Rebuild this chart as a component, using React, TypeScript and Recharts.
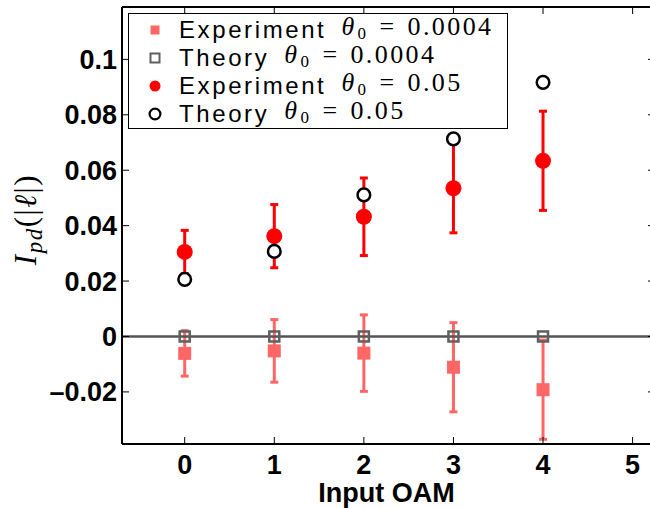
import React from 'react';
import { ScatterChart, Scatter, XAxis, YAxis, ErrorBar, ReferenceLine, Legend } from 'recharts';

// values
const oam = [0, 1, 2, 3, 4];
const expSmall = [-0.0061, -0.0052, -0.006, -0.0111, -0.0192];
const expSmallErr = [0.0082, 0.0113, 0.0138, 0.0161, 0.0179];
const theorySmall = [0, 0, 0, 0, 0];
const expLarge = [0.0305, 0.0362, 0.0432, 0.0535, 0.0634];
const expLargeErr = [0.0078, 0.0114, 0.014, 0.0161, 0.0179];
const theoryLarge = [0.0206, 0.0307, 0.0511, 0.0713, 0.0917];

const xTicks = [0, 1, 2, 3, 4, 5];
const yTicks = [-0.02, 0, 0.02, 0.04, 0.06, 0.08, 0.1];
const xDomain = [-0.7, 5.25];
const yDomain = [-0.0388, 0.1189];

const legendItems = [
  { label: 'Experiment', theta: '0.0004', marker: 'expSmall' },
  { label: 'Theory', theta: '0.0004', marker: 'theorySmall' },
  { label: 'Experiment', theta: '0.05', marker: 'expLarge' },
  { label: 'Theory', theta: '0.05', marker: 'theoryLarge' },
];

const LIGHT_RED = '#ff6666';
const RED = '#ff0000';
const GRAY = '#606060';

const toPoints = (ys: number[], errs?: number[]) =>
  oam.map((x, i) => ({ x, y: ys[i], err: errs ? errs[i] : 0 }));

const tickFont = {
  fontFamily: '"Liberation Sans", Arial, sans-serif',
  fontWeight: 700,
  fontSize: 27,
  fill: '#000',
};

const formatY = (v: number) => {
  const s = String(Math.round(v * 100) / 100);
  return s.replace('-', '\u2013');
};

const FilledSquare = (p: any) => (
  <rect x={p.cx - 6.5} y={p.cy - 6.5} width={13} height={13} fill={LIGHT_RED} />
);
const OpenSquare = (p: any) => (
  <rect x={p.cx - 5} y={p.cy - 5} width={10} height={10} fill="none" stroke={GRAY} strokeWidth={2.5} />
);
const FilledCircle = (p: any) => <circle cx={p.cx} cy={p.cy} r={8} fill={RED} />;
const OpenCircle = (p: any) => (
  <circle cx={p.cx} cy={p.cy} r={6.3} fill="#fff" stroke="#000" strokeWidth={2.5} />
);

const LegendMarker = ({ kind }: { kind: string }) => (
  <svg width={20} height={20} style={{ display: 'block' }}>
    {kind === 'expSmall' && <rect x={5.5} y={5.5} width={9} height={9} fill={LIGHT_RED} />}
    {kind === 'theorySmall' && (
      <rect x={5.5} y={5.5} width={9} height={9} fill="none" stroke={GRAY} strokeWidth={2} />
    )}
    {kind === 'expLarge' && <circle cx={10} cy={10} r={5.5} fill={RED} />}
    {kind === 'theoryLarge' && (
      <circle cx={10} cy={10} r={5.4} fill="#fff" stroke="#000" strokeWidth={2.2} />
    )}
  </svg>
);

const LegendBox = () => (
  <div
    style={{
      width: 378,
      height: 112,
      border: '1px solid #000',
      background: '#fff',
      paddingTop: 2,
      boxSizing: 'content-box',
    }}
  >
    {legendItems.map((it, i) => (
      <div key={i} style={{ display: 'flex', alignItems: 'center', height: 28, whiteSpace: 'nowrap' }}>
        <div style={{ width: 20, marginLeft: 16, marginRight: 14 }}>
          <LegendMarker kind={it.marker} />
        </div>
        <span
          style={{
            fontFamily: '"Liberation Sans", Arial, sans-serif',
            fontSize: 24,
            letterSpacing: 2.6,
            lineHeight: '26px',
          }}
        >
          {it.label}
        </span>
        <span
          style={{
            fontFamily: '"Liberation Serif", "DejaVu Serif", serif',
            fontSize: 26,
            lineHeight: '26px',
            marginLeft: 15,
            letterSpacing: 2.4,
          }}
        >
          <i>θ</i>
          <sub style={{ fontSize: 17, verticalAlign: '-4px', marginLeft: 1 }}>0</sub>
          <span style={{ margin: '0 11px' }}>=</span>
          {it.theta}
        </span>
      </div>
    ))}
  </div>
);

const YLabel = ({ viewBox }: any) => {
  const x = viewBox.x + 36;
  const y = viewBox.y + viewBox.height / 2 - 6;
  return (
    <text
      x={x}
      y={y}
      transform={`rotate(-90 ${x} ${y})`}
      textAnchor="middle"
      fontFamily='"Liberation Serif", "DejaVu Serif", serif'
      fontSize={31}
      letterSpacing={1.5}
      fill="#000"
    >
      <tspan fontStyle="italic">I</tspan>
      <tspan fontStyle="italic" fontSize={23} dy={6}>
        pd
      </tspan>
      <tspan dy={-6}>(|</tspan>
      <tspan fontStyle="italic">ℓ</tspan>
      <tspan>|)</tspan>
    </text>
  );
};

const XLabel = ({ viewBox }: any) => (
  <text
    x={viewBox.x + viewBox.width / 2 - 2}
    y={viewBox.y + 58}
    textAnchor="middle"
    fontFamily='"Liberation Sans", Arial, sans-serif'
    fontWeight={700}
    fontSize={27}
    fill="#000"
  >
    Input OAM
  </text>
);

export default function App() {
  return (
    <div style={{ position: 'absolute', left: 0, top: 0, width: 650, height: 508, overflow: 'hidden', background: '#fff' }}>
      <ScatterChart width={656} height={508} margin={{ top: 6, right: 0, bottom: 0, left: 0 }}>
        <XAxis
          type="number"
          dataKey="x"
          domain={xDomain}
          ticks={xTicks}
          allowDataOverflow
          height={64}
          tick={tickFont}
          tickSize={-7}
          tickMargin={18}
          axisLine={{ stroke: '#000', strokeWidth: 2 }}
          tickLine={{ stroke: '#000', strokeWidth: 1 }}
          label={<XLabel />}
        />
        <XAxis
          xAxisId="top"
          orientation="top"
          type="number"
          dataKey="x"
          domain={xDomain}
          ticks={xTicks}
          allowDataOverflow
          height={1}
          tickFormatter={() => ''}
          tickSize={-7}
          axisLine={{ stroke: '#000', strokeWidth: 2 }}
          tickLine={{ stroke: '#000', strokeWidth: 1 }}
        />
        <YAxis
          type="number"
          dataKey="y"
          domain={yDomain}
          ticks={yTicks}
          allowDataOverflow
          width={122}
          tick={tickFont}
          tickFormatter={formatY}
          tickSize={-7}
          tickMargin={12}
          axisLine={{ stroke: '#000', strokeWidth: 2 }}
          tickLine={{ stroke: '#000', strokeWidth: 1 }}
          label={<YLabel />}
        />
        <YAxis
          yAxisId="right"
          orientation="right"
          type="number"
          domain={yDomain}
          ticks={yTicks}
          allowDataOverflow
          width={1}
          tickFormatter={() => ''}
          tickSize={-7}
          axisLine={{ stroke: '#000', strokeWidth: 2 }}
          tickLine={{ stroke: '#000', strokeWidth: 1 }}
        />
        <Legend
          layout="vertical"
          align="center"
          verticalAlign="middle"
          wrapperStyle={{ left: 128, top: 13, width: 380, height: 114 }}
          content={() => <LegendBox />}
        />
        <Scatter
          name="Experiment θ0 = 0.0004"
          data={toPoints(expSmall, expSmallErr)}
          shape={FilledSquare}
          isAnimationActive={false}
        >
          <ErrorBar dataKey="err" direction="y" width={4} strokeWidth={3} stroke={LIGHT_RED} />
        </Scatter>
        <ReferenceLine y={0} stroke="#555" strokeWidth={2.5} />
        <Scatter
          name="Theory θ0 = 0.0004"
          data={toPoints(theorySmall)}
          shape={OpenSquare}
          isAnimationActive={false}
        />
        <Scatter
          name="Experiment θ0 = 0.05"
          data={toPoints(expLarge, expLargeErr)}
          shape={FilledCircle}
          isAnimationActive={false}
        >
          <ErrorBar dataKey="err" direction="y" width={4} strokeWidth={3} stroke={RED} />
        </Scatter>
        <Scatter
          name="Theory θ0 = 0.05"
          data={toPoints(theoryLarge)}
          shape={OpenCircle}
          isAnimationActive={false}
        />
      </ScatterChart>
    </div>
  );
}
